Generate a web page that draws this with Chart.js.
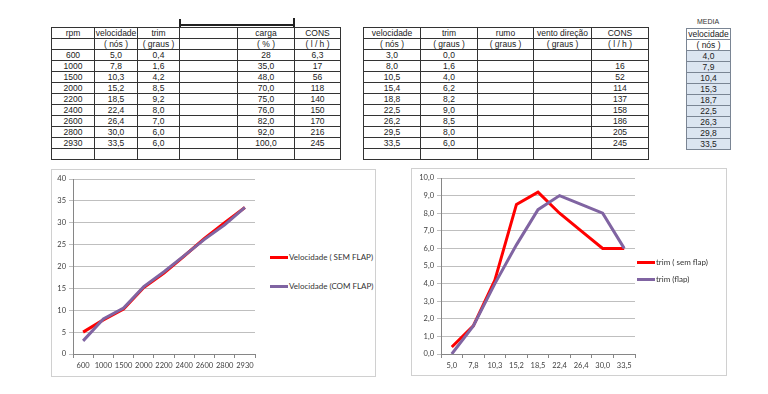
<!DOCTYPE html>
<html>
<head>
<meta charset="utf-8">
<script src="https://cdn.jsdelivr.net/npm/chart.js@4"></script>
<style>
  body { margin: 0; background: #fff; width: 768px; height: 394px; overflow: hidden; position: relative; }
  table { position: absolute; border-collapse: collapse; font-family: "Liberation Sans", Arial, sans-serif; font-size: 8.5px; color: #222; table-layout: fixed; }
  td { border: 1px solid #333; height: 10px; padding: 0; line-height: 10px; text-align: center; white-space: nowrap; overflow: hidden; }
  .media td { border-color: #7a8594; }
  .media td.v { background: #dbe5f1; }
  .frame { position: absolute; border: 1px solid #d0d0d0; box-sizing: border-box; }
  canvas { position: absolute; }
  .leg { position: absolute; font-family: Lato, "Open Sans", sans-serif; font-size: 8px; color: #333; white-space: nowrap; }
  .leg span { display: inline-block; width: 18px; height: 3px; vertical-align: middle; margin-right: 1px; }
  .bar { position: absolute; background: #222; }
</style>
</head>
<body>

<div class="bar" style="left:179px;top:24px;width:116px;height:2px"></div>
<div class="bar" style="left:179px;top:19px;width:2px;height:9px"></div>
<div class="bar" style="left:293px;top:18px;width:2px;height:10px"></div>

<table id="t1" style="left:51px;top:27px;width:290px"></table>
<table id="t2" style="left:363px;top:27px;width:285px"></table>
<div style="position:absolute;left:686px;top:18px;width:44px;text-align:center;font:7px 'Liberation Sans',Arial,sans-serif;color:#333">MEDIA</div>
<table id="t3" class="media" style="left:686px;top:28px;width:44px"></table>

<div class="frame" style="left:51px;top:169px;width:325px;height:208px"></div>
<canvas id="c1" width="210" height="207" style="left:51px;top:169px;width:210px;height:207px"></canvas>
<div id="leg1"></div>

<div class="frame" style="left:411px;top:168px;width:316px;height:208px"></div>
<canvas id="c2" width="230" height="208" style="left:411px;top:168px;width:230px;height:208px"></canvas>
<div id="leg2"></div>

<script>
const RPM = ["600", "1000", "1500", "2000", "2200", "2400", "2600", "2800", "2930"];
const VEL_SEM = [5.0, 7.8, 10.3, 15.2, 18.5, 22.4, 26.4, 30.0, 33.5];
const TRIM_SEM = [0.4, 1.6, 4.2, 8.5, 9.2, 8.0, 7.0, 6.0, 6.0];
const CARGA = ["28", "35,0", "48,0", "70,0", "75,0", "76,0", "82,0", "92,0", "100,0"];
const CONS_SEM = ["6,3", "17", "56", "118", "140", "150", "170", "216", "245"];
const VEL_COM = [3.0, 8.0, 10.5, 15.4, 18.8, 22.5, 26.2, 29.5, 33.5];
const TRIM_COM = [0.0, 1.6, 4.0, 6.2, 8.2, 9.0, 8.5, 8.0, 6.0];
const CONS_COM = ["", "16", "52", "114", "137", "158", "186", "205", "245"];
const MEDIA = ["4,0", "7,9", "10,4", "15,3", "18,7", "22,5", "26,3", "29,8", "33,5"];
const VEL_LABELS = ["5,0", "7,8", "10,3", "15,2", "18,5", "22,4", "26,4", "30,0", "33,5"];
const VEL_TICKS = [0, 5, 10, 15, 20, 25, 30, 35, 40];
const TRIM_TICKS = [0, 1, 2, 3, 4, 5, 6, 7, 8, 9, 10];

const RED = "#ff0000";
const PURPLE = "#8064a2";
const fmt = v => v.toFixed(1).replace(".", ",");

// ── Tabelas ──
function buildTable(id, widths, head, units, rows, extraRow, cls) {
  let html = "<colgroup>" + widths.map(w => `<col style="width:${w}px">`).join("") + "</colgroup>";
  html += "<tr>" + head.map(h => `<td>${h}</td>`).join("") + "</tr>";
  html += "<tr>" + units.map(h => `<td>${h}</td>`).join("") + "</tr>";
  rows.forEach(r => {
    html += "<tr>" + r.map(c => `<td${cls ? ` class="${cls}"` : ""}>${c}</td>`).join("") + "</tr>";
  });
  if (extraRow) html += "<tr>" + widths.map(() => "<td></td>").join("") + "</tr>";
  document.getElementById(id).innerHTML = html;
}

buildTable("t1", [43, 43, 42, 58, 57, 46],
  ["rpm", "velocidade", "trim", "", "carga", "CONS"],
  ["", "( nós )", "( graus )", "", "( % )", "( l / h )"],
  RPM.map((r, i) => [r, fmt(VEL_SEM[i]), fmt(TRIM_SEM[i]), "", CARGA[i], CONS_SEM[i]]), true);

buildTable("t2", [57, 57, 56, 58, 57],
  ["velocidade", "trim", "rumo", "vento direção", "CONS"],
  ["( nós )", "( graus )", "( graus )", "( graus )", "( l / h )"],
  VEL_COM.map((v, i) => [fmt(v), fmt(TRIM_COM[i]), "", "", CONS_COM[i]]), true);

buildTable("t3", [44], ["velocidade"], ["( nós )"], MEDIA.map(m => [m]), false, "v");

// ── Gráficos ──
const tickFont = { family: "Lato, 'Open Sans', sans-serif", size: 7.5 };

function makeChart(canvasId, labels, datasets, yTicks, yWidth, yFmt) {
  return new Chart(document.getElementById(canvasId), {
    type: "line",
    data: {
      labels,
      datasets: datasets.map(d => ({
        label: d.label,
        data: d.data,
        borderColor: d.color,
        borderWidth: 3,
        pointRadius: 0,
        tension: 0,
        order: d.order
      }))
    },
    options: {
      responsive: false,
      animation: false,
      layout: { padding: { top: 10, right: 6, bottom: 0, left: 0 } },
      plugins: { legend: { display: false }, tooltip: { enabled: false } },
      scales: {
        x: {
          offset: true,
          grid: { offset: true, drawOnChartArea: false, drawTicks: true, tickLength: 4, color: "#868686" },
          border: { color: "#868686" },
          ticks: { font: tickFont, color: "#404040", maxRotation: 0, autoSkip: false, padding: 3 },
          afterFit: s => { s.height = 22; }
        },
        y: {
          min: yTicks[0],
          max: yTicks[yTicks.length - 1],
          afterBuildTicks: s => { s.ticks = yTicks.map(v => ({ value: v })); },
          grid: { color: "#bfbfbf", tickLength: 4 },
          border: { color: "#868686" },
          ticks: { font: tickFont, color: "#404040", padding: 3, callback: yFmt },
          afterFit: s => { s.width = yWidth; }
        }
      }
    }
  });
}

const ds1 = [
  { label: "Velocidade ( SEM FLAP)", data: VEL_SEM, color: RED, order: 1 },
  { label: "Velocidade (COM FLAP)", data: VEL_COM, color: PURPLE, order: 0 }
];
const ds2 = [
  { label: "trim ( sem flap)", data: TRIM_SEM, color: RED, order: 1 },
  { label: "trim (flap)", data: TRIM_COM, color: PURPLE, order: 0 }
];

makeChart("c1", RPM, ds1, VEL_TICKS, 22, v => v);
makeChart("c2", VEL_LABELS, ds2, TRIM_TICKS, 30, v => fmt(v));

function legend(id, items, left, tops) {
  document.getElementById(id).innerHTML = items.map((d, i) =>
    `<div class="leg" style="left:${left}px;top:${tops[i] - 6}px"><span style="background:${d.color}"></span>${d.label}</div>`
  ).join("");
}
legend("leg1", ds1, 270, [258, 287]);
legend("leg2", ds2, 637, [263, 280]);
</script>
</body>
</html>
